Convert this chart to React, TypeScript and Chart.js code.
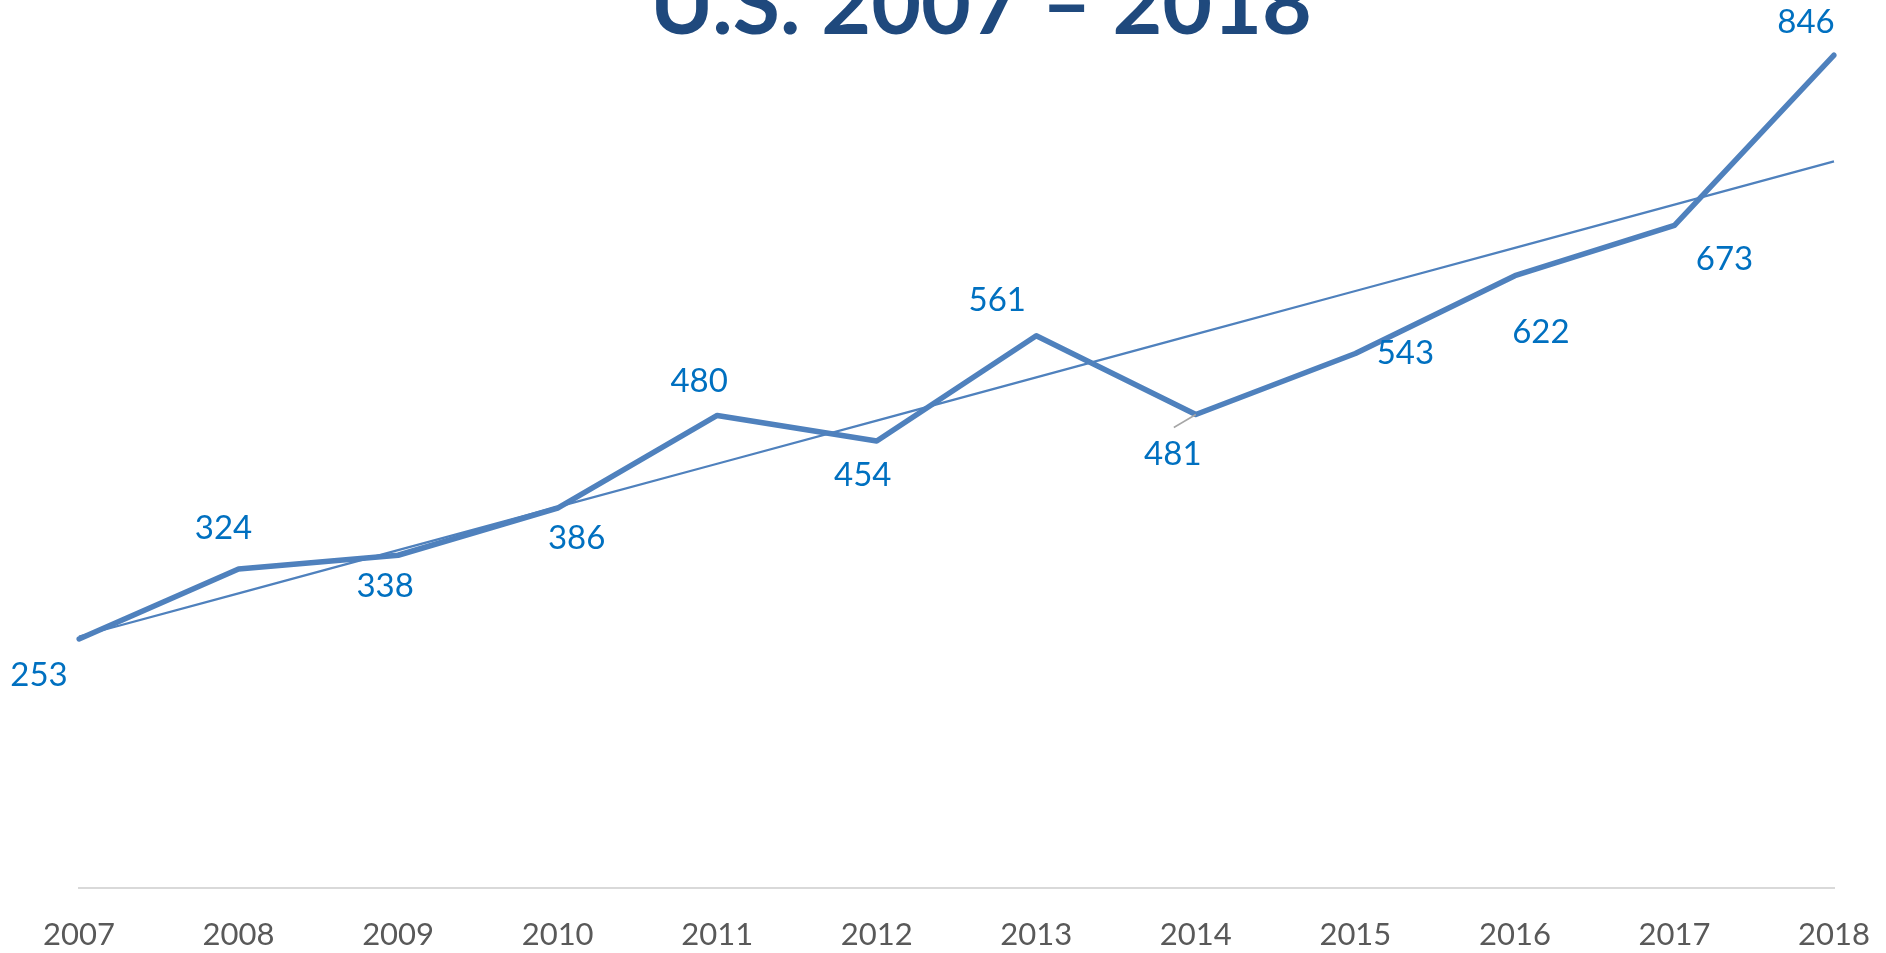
import React, { useEffect, useRef } from "react";
import { Chart, registerables } from "chart.js";

Chart.register(...registerables);

const years = ["2007", "2008", "2009", "2010", "2011", "2012", "2013", "2014", "2015", "2016", "2017", "2018"];
const values = [253, 324, 338, 386, 480, 454, 561, 481, 543, 622, 673, 846];
const titleText = "U.S. 2007 \u2013 2018";

// label placement relative to each point (px)
const labelOffsets: [number, number][] = [
  [-40, 36], [-15, -41], [-13, 31], [19, 30], [-18, -34], [-14, 34],
  [-39, -35], [-23, 40], [50, 0], [26, 57], [50, 34], [-28, -33],
];

// Linear (least squares) trendline computed from the data, like Excel's trendline
function linearTrend(v: number[]): number[] {
  const n = v.length;
  const mx = (n - 1) / 2;
  const my = v.reduce((a, b) => a + b, 0) / n;
  let sxy = 0, sxx = 0;
  v.forEach((y, i) => { sxy += (i - mx) * (y - my); sxx += (i - mx) * (i - mx); });
  const b = sxy / sxx;
  const a = my - b * mx;
  return v.map((_, i) => a + b * i);
}

const FONT = "Lato, 'Open Sans', 'Noto Sans', sans-serif";

export default function App() {
  const ref = useRef<HTMLCanvasElement | null>(null);

  useEffect(() => {
    document.body.style.margin = "0";
    const canvas = ref.current!;
    const labelPlugin = {
      id: "labels",
      afterDatasetsDraw(chart: any) {
        const ctx = chart.ctx;
        const meta = chart.getDatasetMeta(1);
        ctx.save();
        // leader line for 2014
        const p7 = meta.data[7];
        ctx.strokeStyle = "#A6A6A6";
        ctx.lineWidth = 1.5;
        ctx.beginPath();
        ctx.moveTo(p7.x, p7.y);
        ctx.lineTo(p7.x - 22, p7.y + 13);
        ctx.stroke();
        ctx.font = `33px ${FONT}`;
        ctx.fillStyle = "#0070C0";
        ctx.textAlign = "center";
        ctx.textBaseline = "middle";
        meta.data.forEach((pt: any, i: number) => {
          const [dx, dy] = labelOffsets[i];
          ctx.fillText(String(values[i]), pt.x + dx, pt.y + dy);
        });
        // title
        ctx.font = `bold 86px ${FONT}`;
        ctx.fillStyle = "#1F497D";
        ctx.textBaseline = "alphabetic";
        ctx.fillText(titleText, 981, 34);
        ctx.restore();
      },
    };

    const chart = new Chart(canvas, {
      type: "line",
      data: {
        labels: years,
        datasets: [
          {
            label: "Trend",
            data: linearTrend(values),
            borderColor: "#4F81BD",
            borderWidth: 2.25,
            pointRadius: 0,
            tension: 0,
            order: 0,
          },
          {
            label: "Value",
            data: values,
            borderColor: "#4F81BD",
            borderWidth: 5.5,
            borderCapStyle: "round",
            borderJoinStyle: "round",
            pointRadius: 0,
            tension: 0,
            order: 1,
          },
        ],
      },
      options: {
        responsive: false,
        animation: false,
        devicePixelRatio: 1,
        layout: { padding: { left: 79, right: 52, top: 2, bottom: 0 } },
        plugins: { legend: { display: false }, tooltip: { enabled: false }, title: { display: false } },
        scales: {
          x: {
            offset: false,
            grid: { display: false, drawTicks: false },
            border: { display: true, color: "#D9D9D9", width: 2 },
            ticks: { color: "#595959", font: { family: FONT, size: 31 }, padding: 28, maxRotation: 0, autoSkip: false },
            afterFit: (scale: any) => { scale.height = 65; scale.paddingLeft = 0; scale.paddingRight = 0; },
          },
          y: { display: false, min: 0, max: 900 },
        },
      },
      plugins: [labelPlugin],
    } as any);
    return () => chart.destroy();
  }, []);

  return <canvas ref={ref} width={1886} height={953} style={{ display: "block", width: 1886, height: 953 }} />;
}
